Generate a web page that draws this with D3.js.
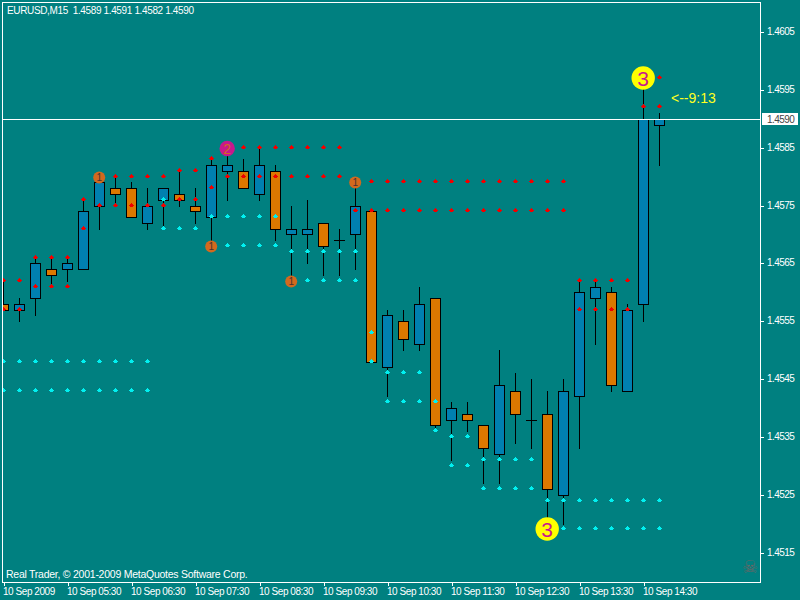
<!DOCTYPE html>
<html><head><meta charset="utf-8">
<script src="https://cdn.jsdelivr.net/npm/d3@7/dist/d3.min.js"></script>
<style>html,body{margin:0;padding:0;background:#008080;overflow:hidden}svg{display:block}</style>
</head><body><svg id="c" width="800" height="600"></svg>
<script>
const opens  = [14558,14557,14559,14564,14564,14564,14575,14578,14578,14572,14576,14577,14575,14573,14581,14581,14577,14581,14570,14570,14572,14569,14570,14574,14547,14555,14551,14559,14538,14539,14537,14532,14543,14538,14539,14525,14542,14559,14560,14543,14558,14589];
const highs  = [14562,14559,14566,14566,14566,14576,14580,14580,14579,14578,14578,14581,14578,14583,14585,14583,14585,14582,14575,14576,14572,14571,14579,14574,14557,14557,14561,14559,14541,14541,14537,14550,14546,14545,14543,14545,14562,14562,14561,14558,14598,14591];
const lows   = [14557,14555,14556,14561,14562,14574,14571,14575,14573,14571,14571,14575,14572,14568,14576,14578,14576,14569,14562,14565,14563,14563,14564,14548,14542,14550,14550,14536,14531,14536,14527,14527,14534,14533,14520,14520,14533,14551,14543,14543,14555,14582];
const closes = [14557,14558,14565,14563,14565,14574,14579,14577,14573,14575,14578,14576,14574,14582,14582,14578,14582,14571,14571,14571,14568,14569,14575,14548,14556,14552,14558,14537,14540,14538,14533,14544,14539,14538,14526,14543,14560,14561,14544,14557,14590,14590];

// [first bar, last bar, level]
const redLevels = [[0,1,14562],[0,1,14557],[2,4,14566],[2,4,14561],[5,5,14576],[5,5,14571],[6,10,14580],[6,10,14575],[11,12,14581],[11,12,14576],[13,13,14583],[13,13,14578],[14,21,14585],[14,21,14580],[22,35,14579],[22,35,14574],[36,39,14562],[36,39,14557],[40,41,14592],[40,41,14597]];
const cyanLevels = [[0,9,14548],[0,9,14543],[10,10,14576],[10,12,14571],[13,17,14573],[13,17,14568],[18,22,14567],[18,22,14562],[23,23,14553],[23,23,14548],[24,26,14546],[24,27,14541],[27,27,14536],[28,29,14535],[28,29,14530],[30,33,14531],[30,33,14526],[34,41,14524],[34,41,14519]];

// [bar, level, label]
const waves = [[6,14580,"1"],[13,14568,"1"],[14,14585,"2"],[18,14562,"1"],[22,14579,"1"],[34,14519,"3"],[40,14597,"3"]];

const priceTicks = [14605,14595,14585,14575,14565,14555,14545,14535,14525,14515];
const timeLabels = ["10 Sep 2009","10 Sep 05:30","10 Sep 06:30","10 Sep 07:30","10 Sep 08:30","10 Sep 09:30","10 Sep 10:30","10 Sep 11:30","10 Sep 12:30","10 Sep 13:30","10 Sep 14:30"];
const lastPrice = 14590;
const header = "EURUSD,M15  1.4589 1.4591 1.4582 1.4590";
const footer = "Real Trader, \u00A9 2001-2009 MetaQuotes Software Corp.";

const BG="#008080", UP="#0080b0", DOWN="#dc7800", FONT="'Liberation Sans',Arial,sans-serif";
const svg=d3.select("#c");
svg.append("rect").attr("width",800).attr("height",600).attr("fill",BG);
svg.append("clipPath").attr("id","plot").append("rect").attr("x",3).attr("y",3).attr("width",757).attr("height",579);

const x=d3.scaleLinear().domain([0,41]).range([3.5,659.5]);
const y=d3.scaleLinear().domain([14605,14515]).rangeRound([32,552.6]);
const fmt=p=>(p/10000).toFixed(4);

// frame & axes
svg.append("rect").attr("x",2.5).attr("y",2.5).attr("width",758).attr("height",580).attr("fill","none").attr("stroke","#fff").attr("shape-rendering","crispEdges");

const yAxis=d3.axisRight(y).tickValues(priceTicks).tickFormat(fmt).tickSize(3).tickPadding(3);
const yg=svg.append("g").attr("transform","translate(760.5,-0.5)").call(yAxis);
const xScaleIdx=d3.scalePoint().domain(timeLabels).range([x(0),x(40)]);
const xAxis=d3.axisBottom(xScaleIdx).tickSize(3).tickPadding(3);
const xg=svg.append("g").attr("transform","translate(0,582.5)").call(xAxis);
[yg,xg].forEach(g=>{g.select(".domain").remove();g.selectAll("line").attr("stroke","#fff").attr("shape-rendering","crispEdges");
 g.selectAll("text").attr("fill","#fff").attr("font-family",FONT).attr("font-size",10);});
yg.selectAll("text").style("letter-spacing","-0.55px").attr("x",6.5);
xg.selectAll("text").style("letter-spacing","-0.45px").attr("text-anchor","start").attr("x",-1).attr("y",5).attr("dy","0.71em");

const plot=svg.append("g").attr("clip-path","url(#plot)");

// bars
const bars=d3.range(opens.length);
plot.append("g").selectAll("line").data(bars).join("line")
 .attr("x1",i=>x(i)).attr("x2",i=>x(i)).attr("y1",i=>y(highs[i])).attr("y2",i=>y(lows[i])+1)
 .attr("stroke","#000").attr("shape-rendering","crispEdges");
plot.append("g").selectAll("rect").data(bars.filter(i=>opens[i]!==closes[i])).join("rect")
 .attr("x",i=>x(i)-5).attr("width",10)
 .attr("y",i=>y(Math.max(opens[i],closes[i]))+.5)
 .attr("height",i=>y(Math.min(opens[i],closes[i]))-y(Math.max(opens[i],closes[i])))
 .attr("fill",i=>closes[i]>opens[i]?UP:DOWN).attr("stroke","#000").attr("shape-rendering","crispEdges");
plot.append("g").selectAll("line").data(bars.filter(i=>opens[i]===closes[i])).join("line")
 .attr("x1",i=>x(i)-5.5).attr("x2",i=>x(i)+5.5).attr("y1",i=>y(opens[i])+.5).attr("y2",i=>y(opens[i])+.5)
 .attr("stroke","#000").attr("shape-rendering","crispEdges");

// current price
svg.append("line").attr("x1",2).attr("x2",760).attr("y1",y(lastPrice)+.5).attr("y2",y(lastPrice)+.5).attr("stroke","#fff").attr("shape-rendering","crispEdges");
svg.append("rect").attr("x",762).attr("y",y(lastPrice)-6).attr("width",36).attr("height",12).attr("fill","#fff");
svg.append("text").attr("x",767).attr("y",y(lastPrice)+3.5).attr("fill","#444").attr("font-family",FONT).attr("font-size",10).style("letter-spacing","-0.55px").text(fmt(lastPrice));

// dots
const dotPath="M-.5,-2.5H.5V-1.5H1.5V-.5H2.5V.5H1.5V1.5H-1.5V.5H-2.5V-.5H-1.5V-1.5H-.5Z";
function dots(levels,color){
 const pts=levels.flatMap(([a,b,l])=>d3.range(a,b+1).map(i=>[i,l]));
 plot.append("g").selectAll("path").data(pts).join("path")
  .attr("d",dotPath).attr("fill",color).attr("shape-rendering","crispEdges")
  .attr("transform",d=>`translate(${x(d[0])},${y(d[1])-0.5})`);
}
dots(redLevels,"#f00000");
dots(cyanLevels,"#00f0f0");

// wave markers
const wg=plot.append("g").selectAll("g").data(waves).join("g").attr("transform",d=>`translate(${x(d[0])-.3},${y(d[1])+(d[2]==="3"?0:0.5)})`);
wg.append("circle").attr("r",d=>d[2]==="3"?11.7:d[2]==="2"?7.7:6)
 .attr("fill",d=>d[2]==="3"?"#ffff00":d[2]==="2"?"#c8188c":"#d2691e");
wg.append("text").attr("text-anchor","middle").attr("y",d=>d[2]==="3"?7.5:d[2]==="2"?5:3.5)
 .attr("font-family",FONT).attr("font-size",d=>d[2]==="3"?21:d[2]==="2"?14:10)
 .attr("fill",d=>d[2]==="3"?"#c8188c":d[2]==="2"?"#d2691e":"#4a3030").text(d=>d[2]);

// notes
svg.append("text").attr("x",671).attr("y",103).attr("fill","#ffff20").attr("font-family",FONT).attr("font-size",14).text("<--9:13");
svg.append("text").attr("x",7).attr("y",14).attr("fill","#fff").attr("font-family",FONT).attr("font-size",10).attr("xml:space","preserve").style("white-space","pre").style("letter-spacing","-0.36px").text(header);
svg.append("text").attr("x",6).attr("y",578).attr("fill","#fff").attr("font-family",FONT).attr("font-size",10.5).style("letter-spacing","-0.25px").text(footer);
svg.append("text").attr("x",750).attr("y",573).attr("text-anchor","middle").attr("fill","#666").attr("font-family","'DejaVu Sans'").attr("font-size",18).text("\u2620");
</script></body></html>
